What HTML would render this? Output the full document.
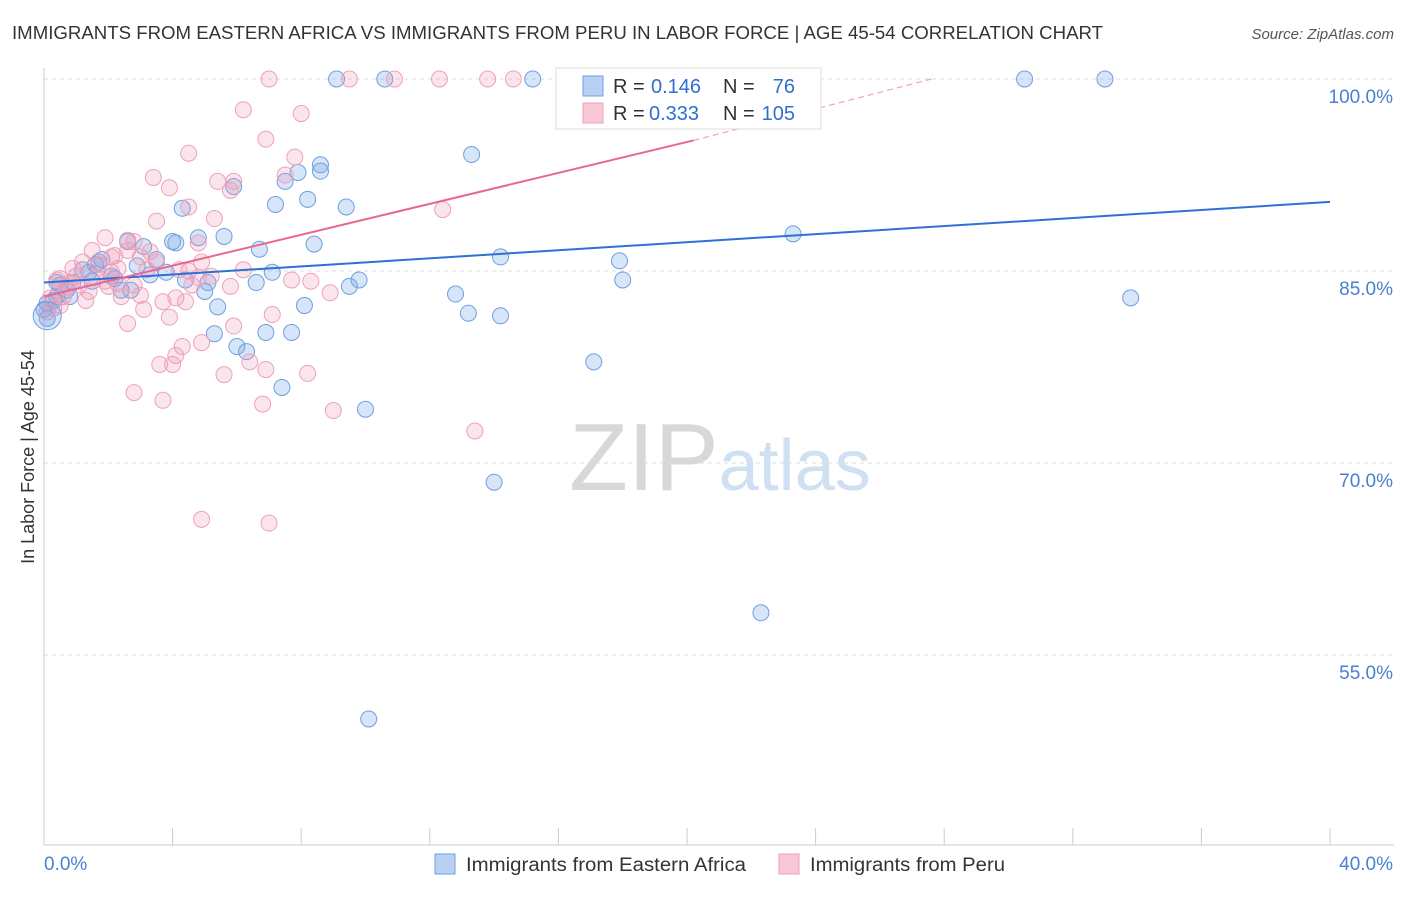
<!DOCTYPE html>
<html><head><meta charset="utf-8">
<style>
body{margin:0;background:#fff;font-family:"Liberation Sans",sans-serif;}
svg text{font-family:"Liberation Sans",sans-serif;}
</style></head>
<body>
<svg id="chart" width="1406" height="892" xmlns="http://www.w3.org/2000/svg">
<text x="12" y="39" font-size="18" fill="#333" textLength="1091" lengthAdjust="spacingAndGlyphs">IMMIGRANTS FROM EASTERN AFRICA VS IMMIGRANTS FROM PERU IN LABOR FORCE | AGE 45-54 CORRELATION CHART</text>
<text x="1394" y="39" font-size="15" fill="#555" text-anchor="end" font-style="italic">Source: ZipAtlas.com</text>
<text x="720" y="490" font-size="96" text-anchor="middle" fill="#ddd" font-family="Liberation Serif"><tspan fill="#d8d8d8">ZIP</tspan><tspan fill="#cfe0f3" font-family="Liberation Sans" font-size="72">atlas</tspan></text>
<g id="grid"></g>
<g id="axes"></g>
<g id="marks"></g>
<g id="trends"></g>
<text transform="translate(34,457) rotate(-90)" font-size="18" fill="#333" text-anchor="middle">In Labor Force | Age 45-54</text>
<g>
<rect x="556" y="68" width="265" height="61" fill="#fff" stroke="#ddd"/>
<rect x="583" y="76" width="20" height="20" fill="#b8d0f4" stroke="#6fa0e0"/>
<rect x="583" y="103" width="20" height="20" fill="#f9c8d6" stroke="#f0a0b8"/>
<text x="613" y="93" font-size="20" fill="#333">R =</text>
<text x="651" y="93" font-size="20" fill="#2f6fd0">0.146</text>
<text x="723" y="93" font-size="20" fill="#333">N =</text>
<text x="795" y="93" font-size="20" fill="#2f6fd0" text-anchor="end">76</text>
<text x="613" y="120" font-size="20" fill="#333">R =</text>
<text x="649" y="120" font-size="20" fill="#2f6fd0">0.333</text>
<text x="723" y="120" font-size="20" fill="#333">N =</text>
<text x="795" y="120" font-size="20" fill="#2f6fd0" text-anchor="end">105</text>
</g>
<g>
<rect x="435" y="854" width="20" height="20" fill="#b8d0f4" stroke="#6fa0e0"/>
<text x="466" y="871" font-size="19" fill="#333" textLength="280" lengthAdjust="spacingAndGlyphs">Immigrants from Eastern Africa</text>
<rect x="779" y="854" width="20" height="20" fill="#f9c8d6" stroke="#f0a0b8"/>
<text x="810" y="871" font-size="19" fill="#333" textLength="195" lengthAdjust="spacingAndGlyphs">Immigrants from Peru</text>
</g>
</svg>
<script>
const yTicks=[100,85,70,55];
const yTickLabels=["100.0%","85.0%","70.0%","55.0%"];
const xTickLabels=["0.0%","40.0%"];
const blueX=[9.1,10.6,15.2,23.2,30.5,33.0,13.3,8.6,8.6,7.9,7.5,5.9,7.2,8.2,9.4,4.3,5.6,4.8,4.0,4.1,3.1,6.7,8.4,2.6,23.3,14.2,17.9,3.5,2.9,7.1,3.8,4.4,6.6,18.0,9.8,9.5,5.1,5.0,2.7,2.2,1.6,1.4,0.9,0.7,0.4,0.1,0.1,12.8,33.8,8.1,5.4,13.2,14.2,6.9,7.7,5.3,6.0,6.3,17.1,7.4,10.0,14.0,22.3,10.1,2.1,1.7,1.2,0.5,2.4,3.3,0.3,0.8,1.5,1.8,0.0,0.4];
const blueY=[100,100,100,100,100,100,94.1,93.3,92.8,92.7,92.0,91.6,90.2,90.6,90.0,89.9,87.7,87.6,87.3,87.2,86.9,86.7,87.1,87.3,87.9,86.1,85.8,85.9,85.4,84.9,84.9,84.3,84.1,84.3,84.3,83.8,84.1,83.4,83.5,84.4,85.5,84.9,84.1,83.5,83.0,82.5,81.3,83.2,82.9,82.3,82.2,81.7,81.5,80.2,80.2,80.1,79.1,78.7,77.9,75.9,74.2,68.5,58.3,50.0,84.6,85.7,85.1,83.9,83.5,84.7,82.7,83.0,84.2,85.9,82.0,84.1];
const pinkX=[7.0,9.5,10.9,12.3,13.8,14.6,16.4,6.2,8.0,6.9,4.5,7.8,3.4,3.9,5.4,5.9,5.8,7.5,4.5,12.4,3.5,5.3,2.6,2.8,4.8,1.5,1.9,3.3,2.1,1.2,3.0,0.9,0.5,4.5,6.2,4.8,7.7,8.3,5.8,8.9,4.1,4.4,3.7,3.1,3.9,2.6,5.9,7.1,4.9,4.3,4.1,3.6,4.0,5.6,6.4,6.9,8.2,2.8,3.7,6.8,9.0,13.4,4.9,7.0,0.4,0.7,1.4,1.0,1.6,2.1,2.3,2.4,2.0,0.2,0.3,0.1,1.1,0.6,1.7,2.2,2.8,3.2,3.5,3.0,0.8,1.3,0.5,1.9,2.3,2.6,4.6,4.9,4.2,5.2];
const pinkY=[100,100,100,100,100,100,100,97.6,97.3,95.3,94.2,93.9,92.3,91.5,92.0,92.0,91.3,92.5,90.0,89.8,88.9,89.1,87.4,87.3,87.2,86.6,87.6,86.5,86.1,85.7,86.1,85.2,84.4,85.0,85.1,84.5,84.3,84.2,83.8,83.3,82.9,82.6,82.6,82.0,81.4,80.9,80.7,81.6,79.4,79.1,78.4,77.7,77.7,76.9,77.9,77.3,77.0,75.5,74.9,74.6,74.1,72.5,65.6,65.3,84.3,83.7,83.4,84.6,84.5,84.9,84.0,83.0,83.8,82.9,82.1,81.8,83.9,83.0,85.5,86.2,83.9,85.1,85.7,83.1,84.1,82.7,82.3,84.2,85.2,86.6,83.9,85.7,85.1,84.6];
const blueTrendX=[0,40];
const blueTrendY=[84.1,90.4];
const pinkTrendX=[0,20.2];
const pinkTrendY=[83.0,95.2];
const pinkDashX=[20.2,27.6];
const pinkDashY=[95.2,100];

const NS="http://www.w3.org/2000/svg";
const xs=v=>44+v/40*1286;
const ys=v=>79+(100-v)*12.8;
function mk(tag,attrs,parent){const e=document.createElementNS(NS,tag);for(const k in attrs)e.setAttribute(k,attrs[k]);document.getElementById(parent).appendChild(e);return e;}

yTicks.forEach((t,i)=>{
  const l=mk('line',{x1:44,x2:1394,y1:ys(t),y2:ys(t),stroke:'#ddd','stroke-dasharray':'4,4'},'grid');
  
  
  const tx=mk('text',{x:1393,y:ys(t)+24,'font-size':19,fill:'#4a80d0','text-anchor':'end'},'axes');
  tx.textContent=yTickLabels[i];
  
  
});
const xa=mk('line',{x1:44,x2:1394,y1:845,y2:845,stroke:'#ccc'},'axes');


const ya=mk('line',{x1:44,x2:44,y1:68,y2:845,stroke:'#ccc'},'axes');


for(let i=0;i<=10;i++){
  const t=mk('line',{x1:xs(i*4),x2:xs(i*4),y1:828,y2:845,stroke:'#ccc'},'axes');
  
  
}
[[0,44,'start'],[1,1393,'end']].forEach(([i,x,a])=>{
  const t=mk('text',{x:x,y:870,'font-size':19,fill:'#4a80d0','text-anchor':a},'axes');
  t.textContent=xTickLabels[i];
  
  
});

blueX.forEach((v,i)=>{
  const c=mk('circle',{cx:xs(v),cy:ys(blueY[i]),r:8,fill:'rgba(110,160,230,0.28)',stroke:'#6f9fe0','stroke-width':1},'marks');
  
  
});
pinkX.forEach((v,i)=>{
  const c=mk('circle',{cx:xs(v),cy:ys(pinkY[i]),r:8,fill:'rgba(240,150,180,0.25)',stroke:'#efa0ba','stroke-width':1},'marks');
  
  
});
const big=mk('circle',{cx:xs(0.1),cy:ys(81.5),r:14,fill:'rgba(110,160,230,0.28)',stroke:'#6f9fe0'},'marks');



const bt=mk('line',{x1:xs(blueTrendX[0]),y1:ys(blueTrendY[0]),x2:xs(blueTrendX[1]),y2:ys(blueTrendY[1]),stroke:'#2f6fd6','stroke-width':2},'trends');


const pt=mk('line',{x1:xs(pinkTrendX[0]),y1:ys(pinkTrendY[0]),x2:xs(pinkTrendX[1]),y2:ys(pinkTrendY[1]),stroke:'#e8688f','stroke-width':2},'trends');


const pd=mk('line',{x1:xs(pinkDashX[0]),y1:ys(pinkDashY[0]),x2:xs(pinkDashX[1]),y2:ys(pinkDashY[1]),stroke:'#f0a0b8','stroke-width':1.2,'stroke-dasharray':'6,4'},'trends');


</script>
</body></html>
